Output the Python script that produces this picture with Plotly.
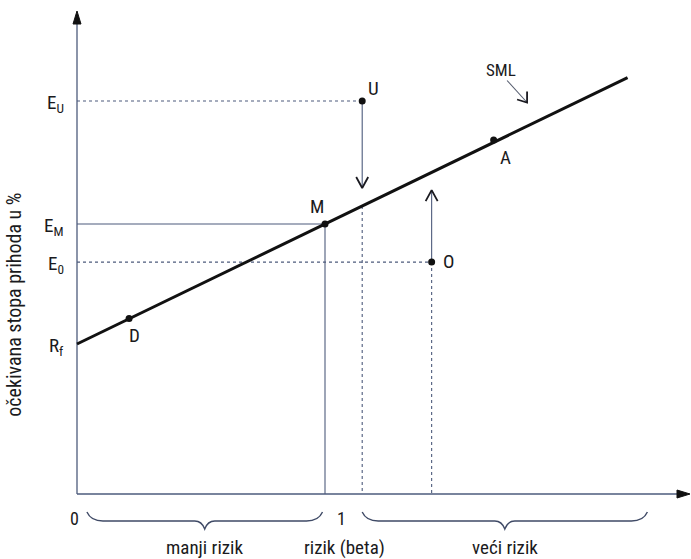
import plotly.graph_objects as go

# ---------------- data ----------------
point_names = ["D", "M", "A", "U", "O"]
point_beta = [0.21, 1.00, 1.68, 1.15, 1.43]
point_return = [5.85, 9.00, 11.80, 13.10, 7.73]

rf = 5.0
e_m = 9.0
e_u = 13.1
e_0 = 7.73
beta_m = 1.0
beta_u = 1.15
beta_o = 1.43

sml_beta = [0.0, 2.22]
sml_return = [5.0, 13.88]

u_arrow_tip = 10.2   # arrow from U pointing down to the SML
o_arrow_tip = 10.13  # arrow from O pointing up to the SML
sml_at_u = 9.6       # where the SML crosses beta of U

y_tick_vals = [rf, e_0, e_m, e_u]
y_tick_text = ["R<sub>f</sub>", "E<sub>0</sub>", "E<sub>M</sub>", "E<sub>U</sub>"]
x_tick_vals = [0, 1]
x_tick_text = ["0", "1"]

brace_ranges = [(0.04, 0.99), (1.15, 2.30)]
brace_labels = ["manji rizik", "veći rizik"]
x_title = "rizik (beta)"
y_title = "očekivana stopa prihoda u %"
sml_label = "SML"

# ---------------- geometry helpers ----------------
PX_X = 248.0   # pixels per beta unit
PX_Y = 30.0    # pixels per return unit
X0_PX = 77.0
Y0_PX = 494.0
W, H = 691, 559
x_range = [-X0_PX / PX_X, (W - X0_PX) / PX_X]
y_range = [-(H - Y0_PX) / PX_Y, Y0_PX / PX_Y]

def dx(px):
    return px / PX_X

def dy(px):
    return px / PX_Y

FONT = "Liberation Sans Narrow, Arial Narrow, Roboto Condensed, Roboto, sans-serif"
LINE_C = "#4d5b7c"
TEXT_C = "#1a1a20"

fig = go.Figure()

def seg(x, y, color=LINE_C, width=1.1, dash="solid"):
    fig.add_trace(go.Scatter(x=x, y=y, mode="lines",
                             line=dict(color=color, width=width, dash=dash),
                             hoverinfo="skip", showlegend=False))

DASH = "3px,3px"

# axes
seg([0, 0], [0, y_range[1] - dy(14)], color=LINE_C, width=1.3)
seg([0, x_range[1] - dx(4)], [0, 0], color=LINE_C, width=1.3)

# guide lines
seg([0, beta_u], [e_u, e_u], dash=DASH)
seg([0, beta_m], [e_m, e_m])
seg([0, beta_o], [e_0, e_0], dash=DASH)
seg([beta_m, beta_m], [e_m, 0])
seg([beta_u, beta_u], [e_u, u_arrow_tip])
seg([beta_u, beta_u], [sml_at_u, 0], dash=DASH)
seg([beta_o, beta_o], [e_0, o_arrow_tip])
seg([beta_o, beta_o], [e_0, 0], dash=DASH)

# chevron arrowheads
def chevron(xt, yt, wings_px, color=TEXT_C, width=1.8):
    (w1x, w1y), (w2x, w2y) = wings_px
    seg([xt + dx(w1x), xt, xt + dx(w2x)], [yt + dy(w1y), yt, yt + dy(w2y)],
        color=color, width=width)

chevron(beta_u, u_arrow_tip, [(-6, 11), (6, 11)])
chevron(beta_o, o_arrow_tip, [(-6, -11), (6, -11)])

# SML line
fig.add_trace(go.Scatter(x=sml_beta, y=sml_return, mode="lines",
                         line=dict(color="#111111", width=3),
                         hoverinfo="skip", showlegend=False))

# points
fig.add_trace(go.Scatter(x=point_beta, y=point_return, mode="markers",
                         marker=dict(color="#111111", size=7),
                         hoverinfo="skip", showlegend=False))

# SML label arrow
sml_lbl_x = 1.71
sml_lbl_y = 14.15
tail_x, tail_y = sml_lbl_x + dx(6), sml_lbl_y - dy(11)
tip_x, tip_y = sml_lbl_x + dx(26), sml_lbl_y - dy(33)
seg([tail_x, tip_x], [tail_y, tip_y], color="#555c6e", width=1.1)
chevron(tip_x, tip_y, [(-10, 3), (0, 11)], width=1.8)

annotations = []

def text(x, y, s, size=18, xanchor="center", yanchor="middle", xshift=0, yshift=0,
         angle=0, color=TEXT_C):
    annotations.append(dict(x=x, y=y, xref="x", yref="y", text=s, showarrow=False,
                            xanchor=xanchor, yanchor=yanchor, xshift=xshift,
                            yshift=yshift, textangle=angle,
                            font=dict(family=FONT, size=size, color=color)))

text(sml_lbl_x, sml_lbl_y, sml_label, size=17)

# point labels
label_shift = {"D": (5, -17), "M": (-8, 18), "A": (12, -17), "U": (11, 13), "O": (17, 1)}
for n, bx, ry in zip(point_names, point_beta, point_return):
    sx, sy = label_shift[n]
    text(bx, ry, n, size=19, xshift=sx, yshift=sy)

# y tick labels
for v, t in zip(y_tick_vals, y_tick_text):
    text(0, v, t, size=19, xanchor="right", xshift=-11, yshift=-2)

# x tick labels
x_tick_shift = [-3, 16]
for v, t, s in zip(x_tick_vals, x_tick_text, x_tick_shift):
    text(v, 0, t, size=18, xshift=s, yshift=-24)

# braces
def brace(x0, x1):
    yt = -dy(18)
    ym = -dy(27)
    yp = -dy(35)
    xm = (x0 + x1) / 2
    d = dx(16)
    e = dx(10)
    p = (f"M {x0},{yt} Q {x0 + dx(4)},{ym} {x0 + d},{ym} "
         f"L {xm - e},{ym} Q {xm - dx(3)},{ym} {xm},{yp} "
         f"Q {xm + dx(3)},{ym} {xm + e},{ym} "
         f"L {x1 - d},{ym} Q {x1 - dx(4)},{ym} {x1},{yt}")
    return dict(type="path", path=p, xref="x", yref="y",
                line=dict(color="#3f4a66", width=1.4))

def triangle(xt, yt, b_px, c_px):
    # filled triangle, tip at (xt, yt), other vertices as pixel offsets
    pts = [(xt, yt)] + [(xt + dx(px), yt + dy(py)) for px, py in (b_px, c_px)]
    p = "M " + " L ".join(f"{x},{y}" for x, y in pts) + " Z"
    return dict(type="path", path=p, xref="x", yref="y",
                line=dict(color="#111111", width=1), fillcolor="#111111")

shapes = []
for (b0, b1), lbl in zip(brace_ranges, brace_labels):
    shapes.append(brace(b0, b1))
    text((b0 + b1) / 2, 0, lbl, size=19, yshift=-53)

text(1.08, 0, x_title, size=19, yshift=-53)

# y axis title
text(-0.255, 6.3, y_title, size=20, angle=-90)

# axis arrowheads
shapes.append(triangle(0, y_range[1] - dy(11), (-4, -13), (4, -13)))
shapes.append(triangle(x_range[1] - dx(1), 0, (-13, 4), (-13, -4)))

fig.update_layout(
    width=W, height=H,
    margin=dict(l=0, r=0, t=0, b=0),
    paper_bgcolor="white", plot_bgcolor="white",
    xaxis=dict(range=x_range, visible=False, fixedrange=True),
    yaxis=dict(range=y_range, visible=False, fixedrange=True),
    annotations=annotations, shapes=shapes, showlegend=False,
)

fig.write_html("out.html", config={"displayModeBar": False},
               post_script="document.body.style.margin='0';document.body.style.padding='0';")
